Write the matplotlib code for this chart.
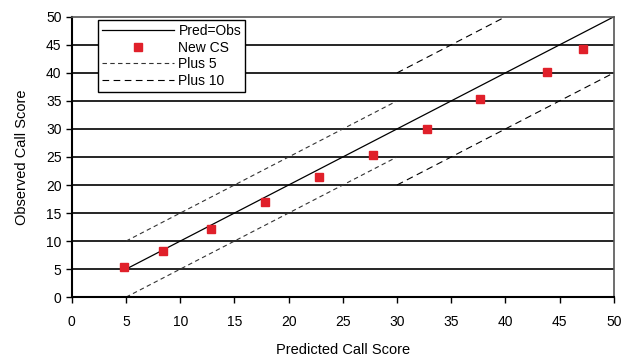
import matplotlib
matplotlib.use("Agg")
import matplotlib.pyplot as plt
import numpy as np

plt.rcParams['font.family'] = ['Liberation Sans', 'DejaVu Sans']

pred = [4.8, 8.4, 12.8, 17.8, 22.8, 27.8, 32.8, 37.7, 43.8, 47.2]
obs = [5.4, 8.2, 12.1, 16.9, 21.4, 25.4, 30.0, 35.4, 40.2, 44.3]

ident_x = [5, 50]
plus5_x = [5, 30]
plus10_x = [30, 50]
off5 = 5
off10 = 10

fig = plt.figure(figsize=(6.25, 3.58), dpi=100)
ax = fig.add_axes([0.115, 0.170, 0.867, 0.783])

for yv in range(5, 50, 5):
    ax.axhline(yv, color='black', lw=1.2, zorder=1)

ax.plot(ident_x, ident_x, color='black', lw=0.9, label='Pred=Obs', zorder=2)
ax.plot(pred, obs, ls='none', marker='s', ms=5.5, color='#e0202a', label='New CS', zorder=4)
px = np.array(plus5_x)
ax.plot(px, px + off5, color='#333333', lw=0.8, dashes=(4, 3), label='Plus 5', zorder=2)
ax.plot(px, px - off5, color='#333333', lw=0.8, dashes=(4, 3), zorder=2)
qx = np.array(plus10_x)
ax.plot(qx, qx + off10, color='black', lw=0.8, dashes=(6, 4), label='Plus 10', zorder=2)
ax.plot(qx, qx - off10, color='black', lw=0.8, dashes=(6, 4), zorder=2)

ax.set_xlim(0, 50)
ax.set_ylim(0, 50)
ax.set_xticks(range(0, 51, 5))
ax.set_yticks(range(0, 51, 5))
ax.tick_params(direction='out', length=4, width=1, labelsize=10, colors='black')
ax.tick_params(axis='x', pad=9)
for s in ['left', 'bottom']:
    ax.spines[s].set_linewidth(1.5)
    ax.spines[s].set_color('black')
for s in ['top', 'right']:
    ax.spines[s].set_linewidth(1.2)
    ax.spines[s].set_color('#555555')

ax.set_xlabel('Predicted Call Score', fontsize=10.5, labelpad=10)
ax.set_ylabel('Observed Call Score', fontsize=10.5, labelpad=12)

leg = ax.legend(loc='upper left', bbox_to_anchor=(0.048, 0.99), fontsize=10,
                frameon=True, fancybox=False, edgecolor='black', framealpha=1,
                borderpad=0.3, labelspacing=0.2, handlelength=5.2, handletextpad=0.3,
                borderaxespad=0)
leg.get_frame().set_linewidth(1.0)
leg.set_zorder(5)

fig.savefig('out.png', dpi=100)
